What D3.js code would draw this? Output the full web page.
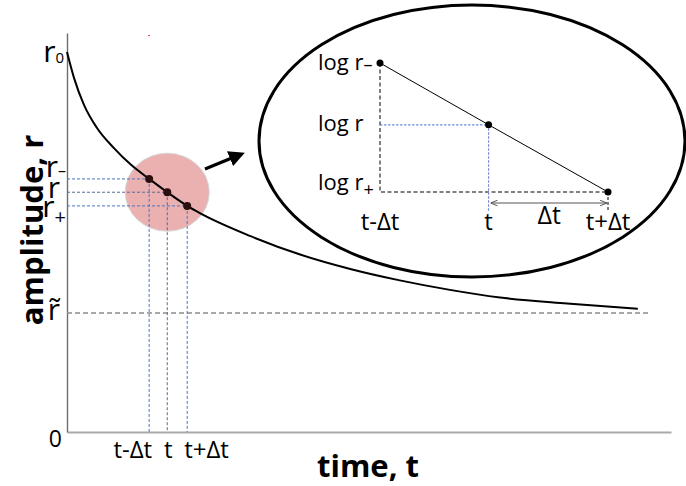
<!DOCTYPE html>
<html>
<head>
<meta charset="utf-8">
<script src="https://cdn.jsdelivr.net/npm/d3@7"></script>
<style>
  html, body { margin: 0; padding: 0; background: #fff; }
  svg { display: block; font-family: "Open Sans", "Noto Sans", sans-serif; }
</style>
</head>
<body>
<svg id="chart" width="686" height="486"></svg>
<script>
// Decay curve r(t), sampled along its length
const curveT = [0, 0.116, 0.281, 0.497, 0.778, 1.06, 1.36, 1.66, 1.99, 2.20, 3.03, 3.86, 4.69, 5.51, 6.34, 7.17, 8.28, 9.45];
const curveR = [1.0, 0.932, 0.861, 0.800, 0.747, 0.703, 0.666, 0.631, 0.595, 0.576, 0.516, 0.467, 0.429, 0.399, 0.374, 0.354, 0.338, 0.324];

// The three sampled points t-Δt, t, t+Δt and their amplitudes r-, r, r+
const sampleT = [1.36, 1.66, 1.99];
const sampleR = [0.666, 0.631, 0.595];
const sampleTLabels = ["t-Δt", "t", "t+Δt"];

// Reference levels
const r0 = 1.0;
const rTilde = 0.313;
const rTildeEnd = 9.67;

const svg = d3.select("#chart");
const defs = svg.append("defs");

// Main axes
const x = d3.scaleLinear().domain([0, 10]).range([67, 671]);
const y = d3.scaleLinear().domain([0, 1.05]).range([432, 33]);

svg.append("g")
  .attr("transform", `translate(0,${y(0)})`)
  .call(d3.axisBottom(x).tickValues([]).tickSize(0))
  .call(g => g.select(".domain").attr("stroke", "#aaa").attr("stroke-width", 2.2));

svg.append("g")
  .attr("transform", `translate(${x(0)},0)`)
  .call(d3.axisLeft(y).tickValues([]).tickSize(0))
  .call(g => g.select(".domain").attr("stroke", "#6e6e6e").attr("stroke-width", 1.4));

// Asymptote level r~
svg.append("line")
  .attr("x1", x(0)).attr("x2", x(rTildeEnd))
  .attr("y1", y(rTilde)).attr("y2", y(rTilde))
  .attr("stroke", "#8c8c8c").attr("stroke-width", 1.6)
  .attr("stroke-dasharray", "5,3");

// Highlight disc around the samples
svg.append("ellipse")
  .attr("cx", x(sampleT[1])).attr("cy", y(sampleR[1]))
  .attr("rx", 42).attr("ry", 39)
  .attr("fill", "#ebb1b1").attr("stroke", "#d6d6d6").attr("stroke-width", 1);

// Guide lines from the samples to both axes
const guideColor = ["#4a74c4", "#566a96", "#4a74c4"];
sampleT.forEach((t, i) => {
  svg.append("line")
    .attr("x1", x(0)).attr("x2", x(t))
    .attr("y1", y(sampleR[i])).attr("y2", y(sampleR[i]))
    .attr("stroke", guideColor[i]).attr("stroke-width", 1)
    .attr("stroke-dasharray", "3,2");
  svg.append("line")
    .attr("x1", x(t)).attr("x2", x(t))
    .attr("y1", y(sampleR[i])).attr("y2", y(0))
    .attr("stroke", guideColor[i]).attr("stroke-width", 1)
    .attr("stroke-dasharray", "3,2");
});

// The decay curve
const line = d3.line()
  .x((d, i) => x(curveT[i]))
  .y((d, i) => y(curveR[i]))
  .curve(d3.curveMonotoneX);
svg.append("path")
  .datum(curveT)
  .attr("d", line)
  .attr("fill", "none")
  .attr("stroke", "#000")
  .attr("stroke-width", 2);

svg.selectAll("circle.sample")
  .data(sampleT)
  .join("circle")
  .attr("class", "sample")
  .attr("cx", d => x(d))
  .attr("cy", (d, i) => y(sampleR[i]))
  .attr("r", 4)
  .attr("fill", "#2b0f0f");

// Y-axis labels
const yl = svg.append("g").attr("fill", "#000");
function rLabel(text, value, dy, sub, subDy, subSize, endX) {
  const t = yl.append("text")
    .attr("x", endX).attr("y", y(value) + dy)
    .attr("text-anchor", "end")
    .attr("font-size", 30);
  t.append("tspan").text(text);
  if (sub) {
    t.append("tspan").attr("font-size", subSize).attr("dy", subDy).text(sub);
  }
}
rLabel("r", r0, 10, "0", 1, 15, 64);
rLabel("r", sampleR[0], -2, "–", -1, 16, 66);
rLabel("r", sampleR[1], 6, null, 0, 0, 60);
rLabel("r", sampleR[2], 11, "+", 7, 20, 66);
rLabel("r\u0303", rTilde, 7, null, 0, 0, 60);

yl.append("text")
  .attr("x", 62).attr("y", y(0) + 15)
  .attr("text-anchor", "end").attr("font-size", 23)
  .text("0");

// X-axis labels for the samples
const xAnchors = ["end", "middle", "start"];
const xShift = [3, 1, -3];
svg.selectAll("text.tlab")
  .data(sampleTLabels)
  .join("text")
  .attr("class", "tlab")
  .attr("x", (d, i) => x(sampleT[i]) + xShift[i])
  .attr("y", y(0) + 26)
  .attr("text-anchor", (d, i) => xAnchors[i])
  .attr("font-size", 24)
  .text(d => d);

// Axis titles
svg.append("text")
  .attr("x", 368).attr("y", 477)
  .attr("text-anchor", "middle")
  .attr("font-size", 31).attr("font-weight", "bold")
  .text("time, t");

svg.append("text")
  .attr("transform", "translate(43,230) rotate(-90)")
  .attr("text-anchor", "middle")
  .attr("font-size", 31).attr("font-weight", "bold")
  .text("amplitude, r");

// Small stray red mark near the top
svg.append("rect")
  .attr("x", 148).attr("y", 35).attr("width", 2).attr("height", 1)
  .attr("fill", "#f33");

// Arrow pointing to the zoomed view
defs.append("marker")
  .attr("id", "head")
  .attr("markerUnits", "userSpaceOnUse")
  .attr("viewBox", "0 0 10 10")
  .attr("refX", 2).attr("refY", 5)
  .attr("markerWidth", 16).attr("markerHeight", 16)
  .attr("orient", "auto")
  .append("path")
  .attr("d", "M0,0 L10,5 L0,10 z")
  .attr("fill", "#000");

svg.append("line")
  .attr("x1", 205).attr("y1", 169)
  .attr("x2", 233).attr("y2", 157.5)
  .attr("stroke", "#000").attr("stroke-width", 3.2)
  .attr("marker-end", "url(#head)");

// Zoomed view: log r against t between the samples
svg.append("ellipse")
  .attr("cx", 472).attr("cy", 141)
  .attr("rx", 213).attr("ry", 136)
  .attr("fill", "#fff").attr("stroke", "#000").attr("stroke-width", 3);

const ix = d3.scaleLinear().domain([sampleT[0], sampleT[2]]).range([380, 608]);
const iy = d3.scaleLog().domain([sampleR[2], sampleR[0]]).range([192, 63]);
const inset = svg.append("g");

// dashed right-angle under the segment
inset.append("path")
  .attr("d", `M${ix(sampleT[0])},${iy(sampleR[0])} V${iy(sampleR[2])} H${ix(sampleT[2])}`)
  .attr("fill", "none").attr("stroke", "#000").attr("stroke-width", 1)
  .attr("stroke-dasharray", "4,2.5");
inset.append("line")
  .attr("x1", ix(sampleT[2])).attr("x2", ix(sampleT[2]))
  .attr("y1", iy(sampleR[2])).attr("y2", iy(sampleR[2]) + 20)
  .attr("stroke", "#000").attr("stroke-width", 1)
  .attr("stroke-dasharray", "3,2");

// blue guides for the middle sample
inset.append("path")
  .attr("d", `M${ix(sampleT[0])},${iy(sampleR[1])} H${ix(sampleT[1])} V${iy(sampleR[2]) + 20}`)
  .attr("fill", "none").attr("stroke", "#6f8fd0").attr("stroke-width", 1.2)
  .attr("stroke-dasharray", "2.5,1.5");

// segment through the samples
inset.append("path")
  .datum(sampleT)
  .attr("d", d3.line().x((d, i) => ix(d)).y((d, i) => iy(sampleR[i])))
  .attr("fill", "none").attr("stroke", "#000").attr("stroke-width", 1);

inset.selectAll("circle")
  .data(sampleT)
  .join("circle")
  .attr("cx", d => ix(d))
  .attr("cy", (d, i) => iy(sampleR[i]))
  .attr("r", 3.5)
  .attr("fill", "#000");

// Δt span arrow
defs.append("marker")
  .attr("id", "tip")
  .attr("markerUnits", "userSpaceOnUse")
  .attr("viewBox", "0 0 10 10")
  .attr("refX", 10).attr("refY", 5)
  .attr("markerWidth", 7).attr("markerHeight", 7)
  .attr("orient", "auto-start-reverse")
  .append("path")
  .attr("d", "M0,1 L10,5 L0,9")
  .attr("fill", "none").attr("stroke", "#555").attr("stroke-width", 1.4);

inset.append("line")
  .attr("x1", ix(sampleT[1]) + 2).attr("x2", ix(sampleT[2]) - 1)
  .attr("y1", iy(sampleR[2]) + 11).attr("y2", iy(sampleR[2]) + 11)
  .attr("stroke", "#555").attr("stroke-width", 1.2)
  .attr("marker-start", "url(#tip)").attr("marker-end", "url(#tip)");

inset.append("text")
  .attr("x", (ix(sampleT[1]) + ix(sampleT[2])) / 2 + 1)
  .attr("y", iy(sampleR[2]) + 32)
  .attr("text-anchor", "middle").attr("font-size", 25)
  .text("Δt");

// inset labels
const logDy = [7, 6, -2];
const logSub = ["–", null, "+"];
const logSubDy = [1, 0, 6];
sampleR.forEach((r, i) => {
  const t = inset.append("text")
    .attr("x", 318).attr("y", iy(r) + logDy[i])
    .attr("font-size", 22);
  t.append("tspan").text("log r");
  if (logSub[i]) t.append("tspan").attr("font-size", 18).attr("dy", logSubDy[i]).text(logSub[i]);
});

inset.selectAll("text.itl")
  .data(sampleTLabels)
  .join("text")
  .attr("class", "itl")
  .attr("x", (d, i) => ix(sampleT[i]))
  .attr("y", 230)
  .attr("text-anchor", "middle")
  .attr("font-size", 24)
  .text(d => d);
</script>
</body>
</html>
